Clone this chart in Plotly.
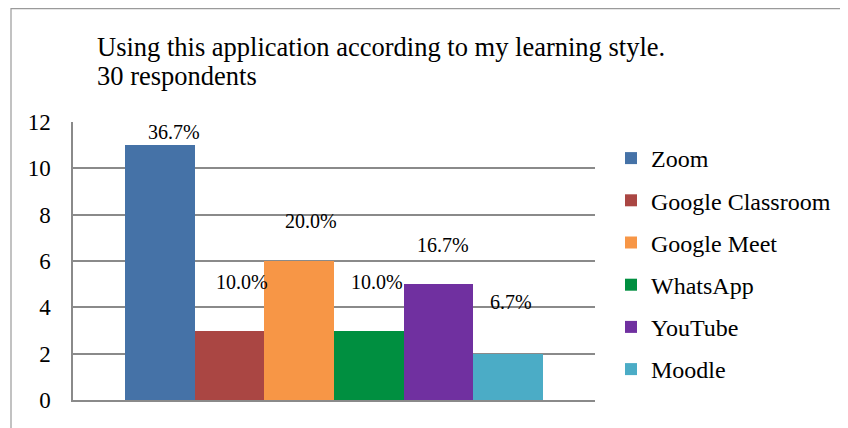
import plotly.graph_objects as go

# ---- data ----
title_line1 = "Using this application according to my learning style."
title_line2 = "30 respondents"
apps = ["Zoom", "Google Classroom", "Google Meet", "WhatsApp", "YouTube", "Moodle"]
counts = [11, 3, 6, 3, 5, 2]
respondents = 30
y_ticks = [0, 2, 4, 6, 8, 10, 12]

# ---- style ----
colors = ["#4572A7", "#AA4643", "#F79646", "#008F40", "#7030A0", "#4BACC6"]
label_xshift = [14, 13, 11.5, 8.5, 4.5, 3]
label_yshift = [13, 49, 40, 49, 39, 52]
FONT = "Liberation Serif, Times New Roman, serif"
GRID = "#8a8a8a"

# page body has an 8px margin, so the figure is drawn 8px smaller and
# all reference pixel positions are shifted by 8px
OFF = 8
W, H = 848 - OFF, 428 - OFF
L, R, T, B = 73 - OFF, 595 - OFF, 122 - OFF, 400 - OFF  # plot area in figure px


def px_x(p):
    return (p - OFF - L) / (R - L)


def px_y(p):
    return (B - (p - OFF)) / (B - T)


fig = go.Figure()
for i, (name, val) in enumerate(zip(apps, counts)):
    fig.add_trace(go.Bar(
        x=[name], y=[val], name=name,
        marker=dict(color=colors[i], line=dict(width=0)),
        legendgroup=name, hoverinfo="skip",
    ))
    fig.add_annotation(
        x=name, y=val, xref="x", yref="y",
        text=f"{val / respondents * 100:.1f}%",
        showarrow=False, xanchor="center", yanchor="middle",
        xshift=label_xshift[i], yshift=label_yshift[i],
        font=dict(family=FONT, size=20, color="#000000"),
    )

# title (two lines)
fig.add_annotation(x=px_x(95), y=px_y(47), xref="paper", yref="paper",
                   text=title_line1, showarrow=False, xanchor="left", yanchor="middle",
                   font=dict(family=FONT, size=26.5, color="#000000"))
fig.add_annotation(x=px_x(95), y=px_y(76), xref="paper", yref="paper",
                   text=title_line2, showarrow=False, xanchor="left", yanchor="middle",
                   font=dict(family=FONT, size=26.5, color="#000000"))

# outer chart border (partly cropped in the reference)
fig.add_shape(type="rect", xref="paper", yref="paper",
              x0=px_x(11), y0=px_y(470), x1=px_x(900), y1=px_y(8.6),
              line=dict(color="#9a9a9a", width=1.2), fillcolor="rgba(0,0,0,0)", layer="below")

fig.update_layout(
    width=W, height=H,
    margin=dict(l=L, r=W - R, t=T, b=H - B, pad=0),
    paper_bgcolor="white", plot_bgcolor="white",
    barmode="overlay", bargap=0,
    showlegend=True,
    legend=dict(x=px_x(611), y=px_y(136), xanchor="left", yanchor="top",
                traceorder="grouped", tracegroupgap=8,
                font=dict(family=FONT, size=24, color="#000000"),
                bgcolor="rgba(0,0,0,0)", borderwidth=0),
    xaxis=dict(range=[-1.246, 6.246], showticklabels=False, ticks="",
               showgrid=False, zeroline=False, showline=True,
               linecolor=GRID, linewidth=1.5, fixedrange=True),
    yaxis=dict(range=[0, 12], tickvals=y_ticks, ticktext=[str(v) for v in y_ticks],
               showgrid=True, gridcolor=GRID, gridwidth=1.5,
               zeroline=False, showline=True, linecolor=GRID, linewidth=1.5,
               ticks="outside", ticklen=16, tickcolor="rgba(0,0,0,0)",
               tickfont=dict(family=FONT, size=23, color="#000000"), fixedrange=True),
)

fig.write_html("out.html")
